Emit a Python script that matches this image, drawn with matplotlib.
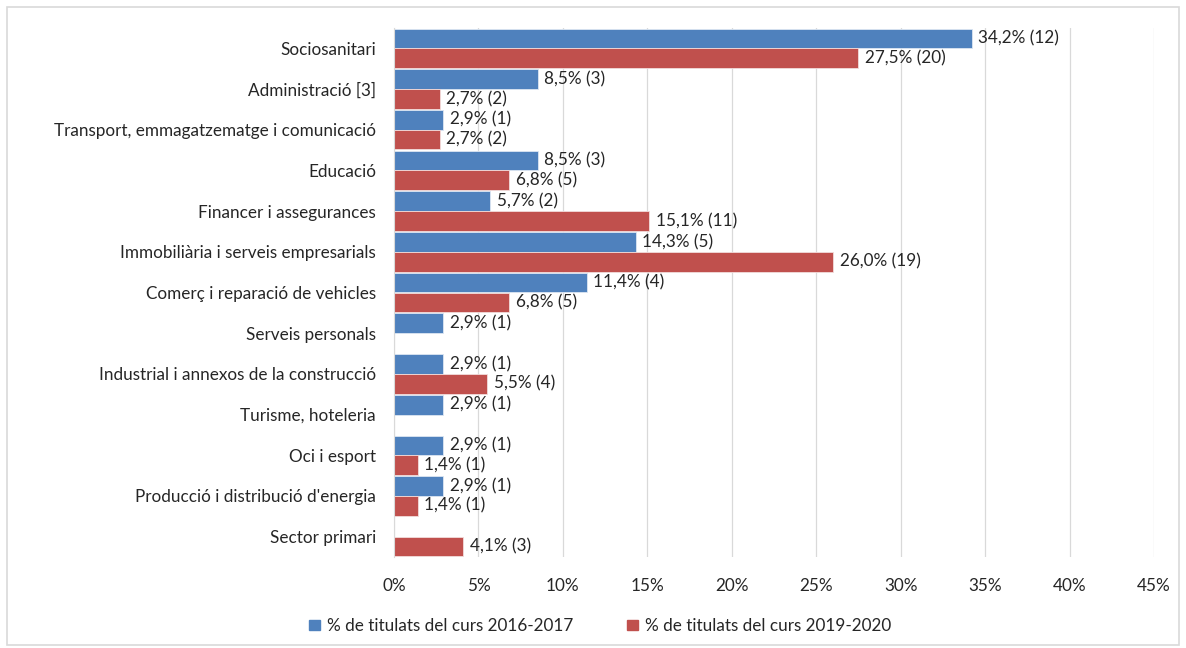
import matplotlib
matplotlib.use("Agg")
import matplotlib.pyplot as plt
import numpy as np

categories = [
    "Sociosanitari",
    "Administració [3]",
    "Transport, emmagatzematge i comunicació",
    "Educació",
    "Financer i assegurances",
    "Immobiliària i serveis empresarials",
    "Comerç i reparació de vehicles",
    "Serveis personals",
    "Industrial i annexos de la construcció",
    "Turisme, hoteleria",
    "Oci i esport",
    "Producció i distribució d'energia",
    "Sector primari",
]
pct_2016 = [34.2, 8.5, 2.9, 8.5, 5.7, 14.3, 11.4, 2.9, 2.9, 2.9, 2.9, 2.9, None]
n_2016 = [12, 3, 1, 3, 2, 5, 4, 1, 1, 1, 1, 1, None]
pct_2019 = [27.5, 2.7, 2.7, 6.8, 15.1, 26.0, 6.8, None, 5.5, None, 1.4, 1.4, 4.1]
n_2019 = [20, 2, 2, 5, 11, 19, 5, None, 4, None, 1, 1, 3]
series_names = ["% de titulats del curs 2016-2017", "% de titulats del curs 2019-2020"]
xticks = [0, 5, 10, 15, 20, 25, 30, 35, 40, 45]

blue = "#4F81BD"
red = "#C0504D"
FS = 12.3

plt.rcParams['font.family'] = ['Lato', 'DejaVu Sans']

fig = plt.figure(figsize=(11.86, 6.48), dpi=100)
ax = fig.add_axes([394/1186, 1-557/648, (1154-394)/1186, (557-28)/648])

# border around the chart
fig.patches.append(plt.Rectangle((7/1186, 3/648), 1172/1186, 638/648, transform=fig.transFigure,
                                 fill=False, edgecolor="#D9D9D9", linewidth=1.2))

y = np.arange(len(categories))
h = 0.485

def fmt(v, n):
    return f"{v:.1f}".replace(".", ",") + f"% ({n})"

for i in range(len(categories)):
    v = pct_2016[i]
    if v is not None:
        ax.barh(y[i] - h/2, v, height=h, color=blue, edgecolor="#DCE6F2", linewidth=0.6)
        ax.text(v + 0.4, y[i] - h/2, fmt(v, n_2016[i]), va="center", ha="left", fontsize=FS, color="#262626")
    v = pct_2019[i]
    if v is not None:
        ax.barh(y[i] + h/2, v, height=h, color=red, edgecolor="#F2DCDB", linewidth=0.6)
        ax.text(v + 0.4, y[i] + h/2, fmt(v, n_2019[i]), va="center", ha="left", fontsize=FS, color="#262626")

ax.set_ylim(len(categories) - 0.5, -0.5)
ax.set_xlim(0, 45)
ax.set_yticks(y)
ax.set_yticklabels(categories, fontsize=FS, color="#262626")
ax.set_xticks(xticks)
ax.set_xticklabels([f"{t}%" for t in xticks], fontsize=FS, color="#262626")
ax.tick_params(axis="both", length=0)
ax.tick_params(axis="y", pad=13)
ax.tick_params(axis="x", pad=15)
ax.grid(axis="x", color="#D9D9D9", linewidth=0.9)
ax.set_axisbelow(True)
for s in ["top", "right", "bottom"]:
    ax.spines[s].set_visible(False)
ax.spines["left"].set_color("#D9D9D9")

handles = [plt.Rectangle((0, 0), 1, 1, color=blue), plt.Rectangle((0, 0), 1, 1, color=red)]
fig.legend(handles, series_names, loc="center", bbox_to_anchor=(0.506, 1-626/648), ncol=2,
           frameon=False, fontsize=FS, handlelength=0.6, handleheight=0.6, columnspacing=3.2,
           handletextpad=0.4, labelcolor="#262626")

fig.savefig("out.png", dpi=100, facecolor="white")
